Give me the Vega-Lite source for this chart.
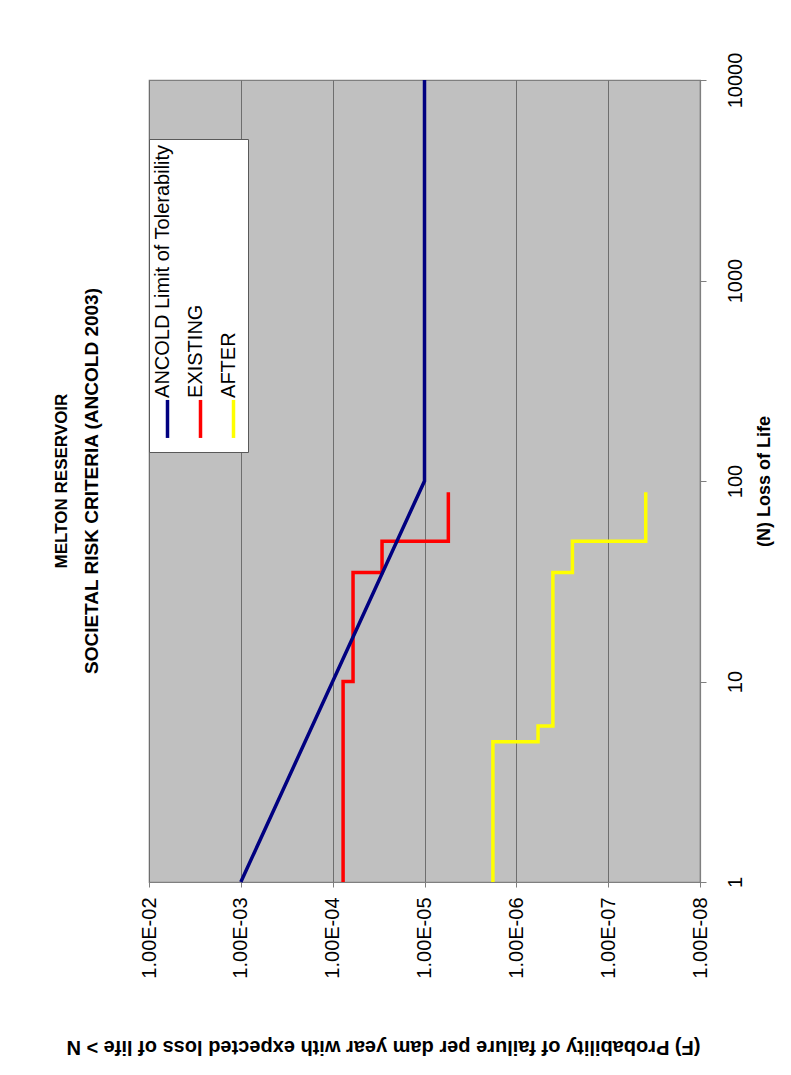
{
  "$schema": "https://vega.github.io/schema/vega-lite/v6.json",
  "width": 551,
  "height": 802,
  "autosize": "none",
  "padding": {"left": 149, "top": 80, "right": 91, "bottom": 193},
  "background": "white",
  "title": {
    "text": "MELTON RESERVOIR",
    "subtitle": "SOCIETAL RISK CRITERIA (ANCOLD 2003)",
    "orient": "left",
    "anchor": "middle",
    "font": "Liberation Sans",
    "fontSize": 17,
    "fontWeight": "bold",
    "color": "black",
    "subtitleFont": "Liberation Sans",
    "subtitleFontSize": 19,
    "subtitleFontWeight": "bold",
    "subtitleColor": "black",
    "subtitlePadding": 12,
    "offset": -43
  },
  "data": {
    "values": [
      {"series": "EXISTING", "N": 1, "F": 7.7e-5},
      {"series": "EXISTING", "N": 10, "F": 6.0e-5},
      {"series": "EXISTING", "N": 35, "F": 2.9e-5},
      {"series": "EXISTING", "N": 50, "F": 5.5e-6},
      {"series": "EXISTING", "N": 88, "F": 5.5e-6},
      {"series": "AFTER", "N": 1, "F": 1.8e-6},
      {"series": "AFTER", "N": 5, "F": 5.8e-7},
      {"series": "AFTER", "N": 6, "F": 4.0e-7},
      {"series": "AFTER", "N": 35, "F": 2.45e-7},
      {"series": "AFTER", "N": 50, "F": 3.9e-8},
      {"series": "AFTER", "N": 88, "F": 3.9e-8},
      {"series": "ANCOLD Limit of Tolerability", "N": 1, "F": 1e-3},
      {"series": "ANCOLD Limit of Tolerability", "N": 100, "F": 1e-5},
      {"series": "ANCOLD Limit of Tolerability", "N": 10000, "F": 1e-5}
    ]
  },
  "encoding": {
    "x": {
      "field": "F",
      "type": "quantitative",
      "scale": {"type": "log", "domain": [1e-8, 1e-2], "reverse": true, "nice": false},
      "axis": {
        "orient": "bottom",
        "values": [1e-2, 1e-3, 1e-4, 1e-5, 1e-6, 1e-7, 1e-8],
        "labelExpr": "'1.00E-0' + format(-log(datum.value) / LN10, '.0f')",
        "labelAngle": -90,
        "labelAlign": "right",
        "labelBaseline": "middle",
        "labelPadding": 10,
        "labelFlush": false,
        "labelOverlap": false,
        "tickSize": 5,
        "grid": true,
        "title": "(F)  Probability of failure per dam year with expected loss of life > N",
        "titleAngle": 180,
        "titleAlign": "left",
        "titleBaseline": "middle",
        "titleX": 551,
        "titleY": 164,
        "titleFontSize": 20
      }
    },
    "y": {
      "field": "N",
      "type": "quantitative",
      "scale": {"type": "log", "domain": [1, 10000], "nice": false},
      "axis": {
        "orient": "right",
        "values": [1, 10, 100, 1000, 10000],
        "format": "d",
        "labelAngle": -90,
        "labelAlign": "center",
        "labelBaseline": "top",
        "labelPadding": 19,
        "labelFlush": false,
        "labelOverlap": false,
        "tickSize": 6,
        "grid": false,
        "title": "(N) Loss of Life",
        "titleAngle": -90,
        "titleAlign": "center",
        "titleBaseline": "middle",
        "titleX": 64,
        "titleY": 401,
        "titleFontSize": 18
      }
    },
    "color": {
      "field": "series",
      "type": "nominal",
      "scale": {
        "domain": ["ANCOLD Limit of Tolerability", "EXISTING", "AFTER"],
        "range": ["#000080", "#FF0000", "#FFFF00"]
      },
      "legend": {
        "orient": "none",
        "legendX": 0,
        "legendY": 59,
        "direction": "horizontal",
        "title": " ",
        "titleFontSize": 10,
        "titlePadding": 253,
        "symbolType": "M0,-2.17L0,1.83",
        "symbolSize": 361,
        "symbolStrokeWidth": 3.5,
        "labelFontSize": 20,
        "labelFont": "Liberation Sans",
        "labelColor": "black",
        "labelLimit": 400,
        "labelOffset": -11.5,
        "fillColor": "white",
        "strokeColor": "#595959",
        "padding": 7,
        "columnPadding": 10,
        "encoding": {
          "labels": {
            "angle": {"value": -90},
            "dx": {"value": 22.6},
            "dy": {"value": -5},
            "align": {"value": "left"},
            "baseline": {"value": "middle"}
          }
        }
      }
    },
    "order": {"field": "N", "type": "quantitative"}
  },
  "layer": [
    {
      "transform": [{"filter": "datum.series !== 'ANCOLD Limit of Tolerability'"}],
      "mark": {"type": "line", "interpolate": "step-before", "strokeWidth": 3.5}
    },
    {
      "transform": [{"filter": "datum.series === 'ANCOLD Limit of Tolerability'"}],
      "mark": {"type": "line", "strokeWidth": 3.5}
    }
  ],
  "config": {
    "font": "Liberation Sans",
    "view": {"fill": "#C0C0C0", "stroke": "#7f7f7f", "strokeWidth": 1.2},
    "axis": {
      "labelFont": "Liberation Sans",
      "labelFontSize": 20,
      "labelColor": "black",
      "titleFont": "Liberation Sans",
      "titleFontWeight": "bold",
      "titleColor": "black",
      "tickColor": "#7f7f7f",
      "domainColor": "#7f7f7f",
      "domainWidth": 1.2,
      "gridColor": "#6e6e6e",
      "gridWidth": 1,
      "gridOpacity": 1
    }
  }
}
